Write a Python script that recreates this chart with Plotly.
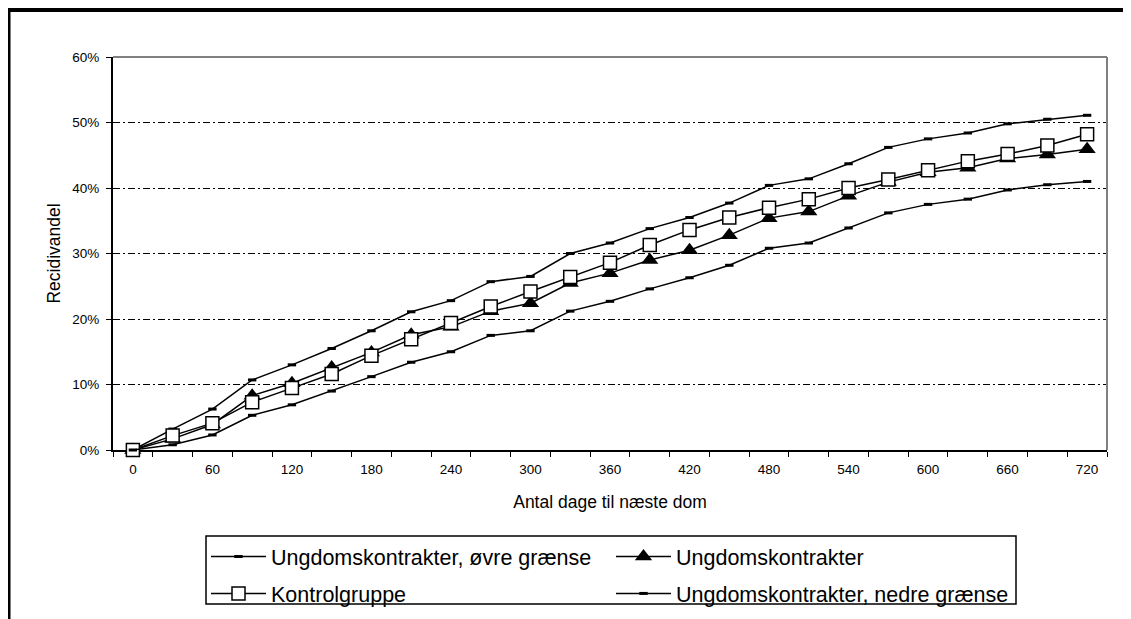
"""Recidivism curves: youth contracts vs control group (Excel-style line chart)."""
import plotly.graph_objects as go

# days to next conviction (categories on the x axis)
days = [str(d) for d in range(0, 721, 30)]
tick_text = [d if i % 2 == 0 else "" for i, d in enumerate(days)]

# share reconvicted, in percent
upper_bound = [0, 3.2, 6.25, 10.7, 13.0, 15.5, 18.2, 21.1, 22.8, 25.7, 26.5, 30.0, 31.6,
               33.8, 35.5, 37.7, 40.4, 41.4, 43.7, 46.2, 47.5, 48.4, 49.8, 50.5, 51.1]
contracts = [0, 1.7, 3.9, 8.3, 10.2, 12.6, 14.9, 17.6, 18.8, 21.2, 22.4, 25.5, 27.0,
             29.0, 30.5, 32.8, 35.4, 36.4, 38.8, 40.9, 42.4, 43.1, 44.5, 45.1, 45.9]
control = [0, 2.2, 4.1, 7.3, 9.45, 11.6, 14.4, 16.9, 19.4, 21.9, 24.2, 26.4, 28.6,
           31.3, 33.6, 35.5, 37.0, 38.3, 40.0, 41.3, 42.7, 44.1, 45.2, 46.5, 48.2]
lower_bound = [0, 0.8, 2.3, 5.3, 6.9, 9.0, 11.2, 13.4, 15.0, 17.5, 18.2, 21.2, 22.7,
               24.6, 26.3, 28.2, 30.8, 31.6, 33.9, 36.2, 37.5, 38.3, 39.7, 40.5, 41.0]

FONT = "Arial, Liberation Sans, sans-serif"
# the page body adds an 8px margin, so the figure is 8px smaller than the window
OFF = 8
W, H = 1131 - OFF, 619 - OFF
L, R, T, B = 113 - OFF, 24, 57 - OFF, 169
PW, PH = W - L - R, H - T - B


def px_x(p):
    # window pixel -> paper x
    return (p - OFF - L) / PW


def px_y(p):
    # window pixel -> paper y
    return (H - B - (p - OFF)) / PH


fig = go.Figure()
line = dict(color="black", width=1.5)
bar_marker = dict(symbol="line-ew", size=6, line=dict(color="black", width=3))

fig.add_trace(go.Scatter(x=days, y=upper_bound, name="Ungdomskontrakter, øvre grænse",
                         mode="lines+markers", line=line, marker=bar_marker,
                         legend="legend", legendgroup="a", cliponaxis=False))
fig.add_trace(go.Scatter(x=days, y=contracts, name="Ungdomskontrakter",
                         mode="lines+markers", line=line,
                         marker=dict(symbol="triangle-up", size=15, color="black"),
                         legend="legend2", legendgroup="b", cliponaxis=False))
fig.add_trace(go.Scatter(x=days, y=control, name="Kontrolgruppe",
                         mode="lines+markers", line=line,
                         marker=dict(symbol="square", size=13, color="white",
                                     line=dict(color="black", width=1.5)),
                         legend="legend", legendgroup="c", cliponaxis=False))
fig.add_trace(go.Scatter(x=days, y=lower_bound, name="Ungdomskontrakter, nedre grænse",
                         mode="lines+markers", line=line, marker=bar_marker,
                         legend="legend2", legendgroup="d", cliponaxis=False))

legend_style = dict(orientation="v", xanchor="left", yanchor="top",
                    y=px_y(536), bgcolor="rgba(0,0,0,0)", itemwidth=55,
                    font=dict(family=FONT, size=21.5, color="black"),
                    traceorder="grouped", tracegroupgap=6)

fig.update_layout(
    width=W, height=H,
    margin=dict(l=L, r=R, t=T, b=B, autoexpand=False),
    paper_bgcolor="white", plot_bgcolor="white",
    font=dict(family=FONT, color="black"),
    showlegend=True,
    legend=dict(x=px_x(206), **legend_style),
    legend2=dict(x=px_x(611), **legend_style),
    xaxis=dict(
        type="category", range=[-0.5, 24.5], tickvals=days, ticktext=tick_text,
        tickson="boundaries", ticks="outside", ticklen=5, tickcolor="black", tickwidth=1,
        showline=True, linecolor="black", linewidth=2, showgrid=False,
        tickfont=dict(size=13.5), ticklabelstandoff=6, layer="below traces",
        title=dict(text="Antal dage til næste dom", font=dict(size=17.5), standoff=20),
    ),
    yaxis=dict(
        range=[0, 60], dtick=10, ticksuffix="%", ticks="outside", ticklen=5,
        tickcolor="black", showline=True, linecolor="black", linewidth=2,
        showgrid=True, gridcolor="black", gridwidth=1, griddash="7px,3px,2px,3px",
        zeroline=False, tickfont=dict(size=13.5), ticklabelstandoff=4,
        layer="below traces",
        title=dict(text="Recidivandel", font=dict(size=17.5), standoff=7),
    ),
    shapes=[
        # grey plot-area border (top and right)
        dict(type="line", xref="paper", yref="paper", x0=0, x1=1, y0=1, y1=1,
             line=dict(color="#808080", width=2)),
        dict(type="line", xref="paper", yref="paper", x0=1, x1=1, y0=0, y1=1,
             line=dict(color="#808080", width=2)),
        # legend box
        dict(type="rect", xref="paper", yref="paper",
             x0=px_x(206), x1=px_x(1016), y0=px_y(604), y1=px_y(536),
             line=dict(color="black", width=1.5)),
        # outer chart frame
        dict(type="rect", xref="paper", yref="paper",
             x0=px_x(8.5), x1=px_x(1129), y0=px_y(660), y1=px_y(10),
             line=dict(color="black", width=4)),
    ],
)

fig.write_html("out.html")
